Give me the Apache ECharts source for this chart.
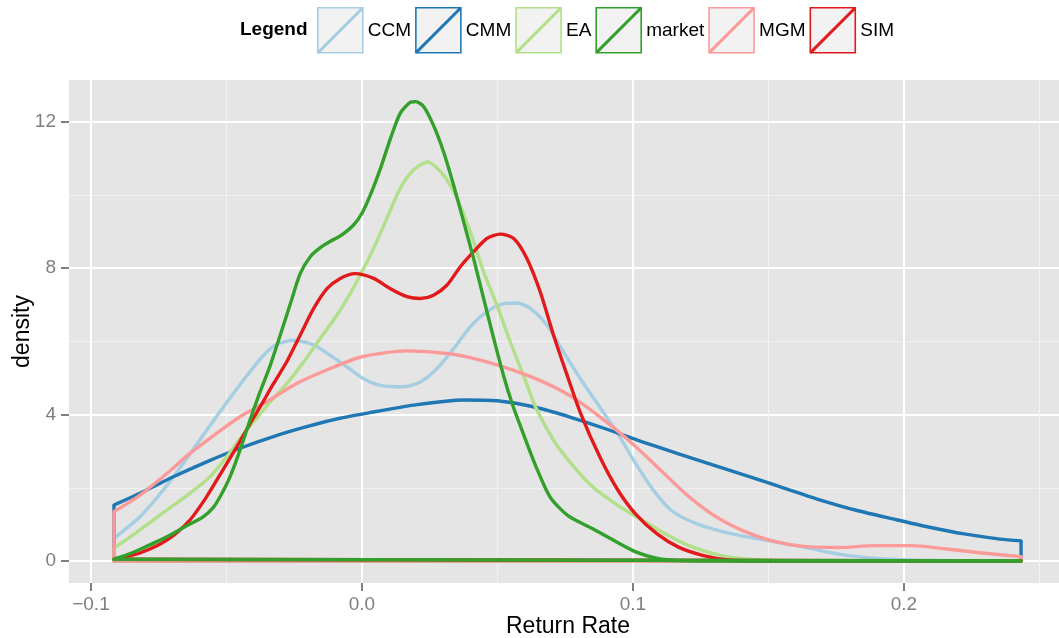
<!DOCTYPE html>
<html>
<head>
<meta charset="utf-8">
<script src="https://cdn.jsdelivr.net/npm/echarts@6/dist/echarts.min.js"></script>
<style>
  html, body { margin: 0; padding: 0; background: #ffffff; }
  #chart { width: 1059px; height: 638px; }
</style>
</head>
<body>
<div id="chart"></div>
<script>
// Kernel density estimates of return rates, one [x, density] list per model
const CCM = [[-0.0915,0.62],[-0.0819,1.21],[-0.0733,1.94],[-0.0659,2.67],[-0.0585,3.45],[-0.0512,4.2],[-0.0462,4.7],[-0.0424,5.07],[-0.0363,5.62],[-0.0314,5.92],[-0.0252,6.03],[-0.0178,5.9],[-0.0117,5.62],[-0.0055,5.3],[0.0006,4.98],[0.0068,4.8],[0.0154,4.76],[0.0215,4.89],[0.0277,5.26],[0.0338,5.8],[0.04,6.4],[0.0461,6.81],[0.0523,7.03],[0.0572,7.05],[0.0621,6.9],[0.0683,6.44],[0.0744,5.71],[0.0806,4.98],[0.0878,4.2],[0.0944,3.48],[0.101,2.66],[0.1076,1.93],[0.1142,1.38],[0.1234,1.02],[0.1365,0.74],[0.1498,0.56],[0.163,0.38],[0.176,0.19],[0.189,0.08],[0.2025,0.03],[0.22,0.01],[0.2432,0.01]];
const CMM = [[-0.0915,1.53],[-0.0819,1.85],[-0.0696,2.3],[-0.0573,2.71],[-0.045,3.08],[-0.0327,3.4],[-0.0204,3.67],[-0.0081,3.9],[0.0042,4.07],[0.019,4.26],[0.0375,4.4],[0.0498,4.38],[0.0641,4.2],[0.0773,3.92],[0.0904,3.6],[0.1037,3.25],[0.1168,2.93],[0.13,2.61],[0.1432,2.3],[0.1563,1.98],[0.1695,1.66],[0.1827,1.38],[0.1959,1.15],[0.209,0.93],[0.2222,0.74],[0.2354,0.6],[0.2432,0.55]];
const EA = [[-0.0915,0.35],[-0.0819,0.85],[-0.072,1.39],[-0.0635,1.85],[-0.0561,2.3],[-0.0499,2.85],[-0.0439,3.45],[-0.0389,3.9],[-0.0338,4.35],[-0.0277,4.85],[-0.0215,5.44],[-0.0154,6.08],[-0.0092,6.72],[-0.0043,7.31],[0,7.9],[0.0043,8.54],[0.0092,9.36],[0.0141,10.18],[0.019,10.68],[0.0242,10.9],[0.0301,10.54],[0.0351,9.9],[0.04,8.99],[0.0449,7.9],[0.0498,6.99],[0.0547,5.99],[0.0597,5.05],[0.0641,4.2],[0.0707,3.3],[0.0772,2.66],[0.0852,2.02],[0.0944,1.52],[0.1037,1.1],[0.113,0.7],[0.1221,0.38],[0.1326,0.15],[0.143,0.05],[0.155,0.01],[0.2432,0]];
const MARKET = [[-0.0915,0.05],[-0.085,0.22],[-0.0819,0.32],[-0.075,0.55],[-0.0697,0.75],[-0.065,0.95],[-0.0587,1.2],[-0.055,1.45],[-0.0524,1.75],[-0.0487,2.3],[-0.045,3.03],[-0.0413,3.85],[-0.0376,4.62],[-0.0339,5.33],[-0.0299,6.23],[-0.0262,7.08],[-0.0228,7.85],[-0.019,8.32],[-0.015,8.58],[-0.0118,8.73],[-0.008,8.88],[-0.0031,9.18],[0,9.5],[0.0031,10.0],[0.0068,10.72],[0.0105,11.54],[0.0141,12.23],[0.0178,12.53],[0.0199,12.55],[0.0228,12.41],[0.0264,11.9],[0.0301,11.18],[0.0338,10.27],[0.0375,9.27],[0.0412,8.26],[0.0449,7.17],[0.0486,6.08],[0.0523,5.05],[0.0557,4.24],[0.059,3.58],[0.0641,2.6],[0.0694,1.75],[0.076,1.24],[0.0852,0.88],[0.093,0.56],[0.101,0.25],[0.109,0.07],[0.117,0.01],[0.13,0],[0.2432,0]];
const MGM = [[-0.0915,1.35],[-0.0819,1.8],[-0.072,2.39],[-0.0635,2.94],[-0.0536,3.49],[-0.045,3.94],[-0.0352,4.35],[-0.0241,4.85],[-0.0117,5.26],[0,5.58],[0.0166,5.74],[0.0314,5.67],[0.0437,5.49],[0.056,5.21],[0.0667,4.9],[0.0773,4.49],[0.0878,3.94],[0.0984,3.3],[0.109,2.57],[0.1194,1.84],[0.13,1.24],[0.1405,0.83],[0.151,0.56],[0.163,0.4],[0.176,0.37],[0.189,0.42],[0.2025,0.42],[0.2157,0.33],[0.2289,0.22],[0.2432,0.12]];
const SIM = [[-0.0915,0.05],[-0.0819,0.22],[-0.072,0.57],[-0.0635,1.12],[-0.0573,1.76],[-0.0513,2.49],[-0.0462,3.12],[-0.0413,3.75],[-0.0365,4.35],[-0.0326,4.85],[-0.0277,5.45],[-0.0228,6.17],[-0.0178,6.9],[-0.0129,7.44],[-0.008,7.72],[-0.0025,7.85],[0.0043,7.72],[0.0105,7.44],[0.0166,7.22],[0.0215,7.17],[0.0264,7.26],[0.0314,7.54],[0.0363,8.04],[0.0412,8.45],[0.0461,8.81],[0.051,8.93],[0.056,8.81],[0.0609,8.26],[0.0658,7.35],[0.0707,6.17],[0.0756,5.1],[0.0806,4.05],[0.0878,2.84],[0.0944,1.94],[0.101,1.28],[0.1089,0.74],[0.1168,0.38],[0.126,0.15],[0.1353,0.03],[0.145,0],[0.2432,0]];

// Legend order and colours (ColorBrewer "Paired")
const legendNames = ['CCM', 'CMM', 'EA', 'market', 'MGM', 'SIM'];
const colors = { CCM: '#A6CEE3', CMM: '#1F78B4', EA: '#B2DF8A', market: '#33A02C', MGM: '#FB9A99', SIM: '#E31A1C' };
const densities = { CCM: CCM, CMM: CMM, EA: EA, market: MARKET, MGM: MGM, SIM: SIM };
// Stacking order of the outlines (market on top)
const drawOrder = ['CCM', 'CMM', 'EA', 'MGM', 'SIM', 'market'];

// Axis ticks
const xMajorTicks = [-0.1, 0, 0.1, 0.2];
const xMinorTicks = [-0.05, 0.05, 0.15, 0.25];
const yMajorTicks = [0, 4, 8, 12];
const yMinorTicks = [2, 6, 10];

const X_MIN = -0.1081, X_MAX = 0.2572;
const Y_MIN = -0.6, Y_MAX = 13.14;

const FONT = '"Liberation Sans", Arial, Helvetica, sans-serif';
const LINE_W = 3.4;

// Square key with a diagonal stroke, as drawn for density outlines
const keyIcon = 'path://M0,0L45,0L45,45L0,45Z M0,44L44,0L45,1L1,45Z';

const series = [];
drawOrder.forEach(function (name) {
  const pts = densities[name];
  const first = pts[0], last = pts[pts.length - 1];
  // smooth density curve
  series.push({
    name: name, type: 'line', data: pts, smooth: 0.25, symbol: 'none',
    lineStyle: { color: colors[name], width: LINE_W, join: 'round', cap: 'round' },
    itemStyle: { color: colors[name] }, silent: true, animation: false
  });
  // closing edges of the density polygon: vertical ends and baseline
  series.push({
    name: name, type: 'line', symbol: 'none', smooth: false,
    data: [[first[0], first[1]], [first[0], 0], [last[0], 0], [last[0], last[1]]],
    lineStyle: { color: colors[name], width: LINE_W, join: 'round', cap: 'butt' },
    itemStyle: { color: colors[name] }, silent: true, animation: false
  });
});

const xLabel = function (v) {
  const s = Math.abs(v).toFixed(1);
  return v < -1e-9 ? '\u2212' + s : s;
};

const chart = echarts.init(document.getElementById('chart'), null, { renderer: 'canvas' });
chart.setOption({
  animation: false,
  backgroundColor: '#ffffff',
  title: {
    text: 'Legend', left: 240, top: 19, padding: 0,
    textStyle: { fontFamily: FONT, fontSize: 19, fontWeight: 'bold', color: '#000000', lineHeight: 22 }
  },
  legend: {
    left: 317, top: 7, padding: 0, orient: 'horizontal',
    itemWidth: 45, itemHeight: 45, itemGap: 4,
    selectedMode: false,
    textStyle: { fontFamily: FONT, fontSize: 19, color: '#000000' },
    data: legendNames.map(function (n) {
      return {
        name: n, icon: keyIcon,
        itemStyle: { color: '#F2F2F2', borderColor: colors[n], borderWidth: 1.6 }
      };
    })
  },
  grid: {
    left: 69, right: 0, top: 80, bottom: 55,
    outerBoundsMode: 'none', containLabel: false,
    show: true, backgroundColor: '#E5E5E5', borderWidth: 0
  },
  xAxis: [
    {
      type: 'value', min: X_MIN, max: X_MAX, position: 'bottom',
      name: 'Return Rate', nameLocation: 'middle', nameGap: 32, nameMoveOverlap: false,
      nameTextStyle: { fontFamily: FONT, fontSize: 23, color: '#000000', verticalAlign: 'top', padding: [0, 0, 0, 8] },
      axisLine: { show: false, onZero: false },
      axisTick: { show: true, length: 8, customValues: xMajorTicks, lineStyle: { color: '#7F7F7F', width: 2 } },
      axisLabel: { show: true, customValues: xMajorTicks, margin: 12, formatter: xLabel,
        fontFamily: FONT, fontSize: 19, color: '#7F7F7F' },
      splitLine: { show: true, lineStyle: { color: '#FFFFFF', width: 2 } },
      minorTick: { show: false }, minorSplitLine: { show: false }
    },
    {
      type: 'value', min: X_MIN, max: X_MAX, position: 'top',
      axisLine: { show: false, onZero: false },
      axisTick: { show: false, customValues: xMinorTicks },
      axisLabel: { show: false, customValues: xMinorTicks },
      splitLine: { show: true, lineStyle: { color: '#F2F2F2', width: 1 } }
    }
  ],
  yAxis: [
    {
      type: 'value', min: Y_MIN, max: Y_MAX, position: 'left',
      name: 'density', nameLocation: 'middle', nameGap: 35, nameRotate: 90, nameMoveOverlap: false,
      nameTextStyle: { fontFamily: FONT, fontSize: 23, color: '#000000' },
      axisLine: { show: false, onZero: false },
      axisTick: { show: true, length: 8, customValues: yMajorTicks, lineStyle: { color: '#7F7F7F', width: 2 } },
      axisLabel: { show: true, customValues: yMajorTicks, margin: 13,
        fontFamily: FONT, fontSize: 19, color: '#7F7F7F' },
      splitLine: { show: true, lineStyle: { color: '#FFFFFF', width: 2 } }
    },
    {
      type: 'value', min: Y_MIN, max: Y_MAX, position: 'right',
      axisLine: { show: false, onZero: false },
      axisTick: { show: false, customValues: yMinorTicks },
      axisLabel: { show: false, customValues: yMinorTicks },
      splitLine: { show: true, lineStyle: { color: '#F2F2F2', width: 1 } }
    }
  ],
  series: series
});
</script>
</body>
</html>
